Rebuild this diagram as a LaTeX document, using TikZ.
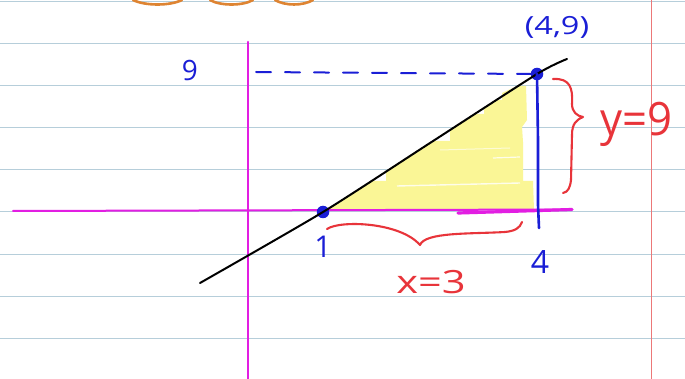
\documentclass[tikz,border=0pt]{standalone}
\usepackage{fontspec}
\setmainfont{Open Sans}
\definecolor{rulec}{RGB}{182,206,218}
\definecolor{marginc}{RGB}{236,120,120}
\definecolor{magc}{RGB}{226,30,226}
\definecolor{bluec}{RGB}{26,30,214}
\definecolor{redc}{RGB}{232,52,58}
\definecolor{hilite}{RGB}{250,246,150}
\definecolor{orangec}{RGB}{222,132,50}
\tikzset{
  rule/.style={draw=rulec, line width=1pt},
  marginline/.style={draw=marginc, line width=1pt},
  axis/.style={draw=magc, line width=2.6pt, line cap=round},
  pencil/.style={draw=black, line width=2pt, line cap=round, line join=round},
  bluepen/.style={draw=bluec, line width=2.6pt, line cap=round, line join=round},
  redpen/.style={draw=redc, line width=2.1pt, line cap=round, line join=round},
  dotpt/.style={circle, fill=bluec, inner sep=0pt, minimum size=12.5pt},
  bluetext/.style={text=bluec, inner sep=0pt},
  redtext/.style={text=redc, inner sep=0pt},
  orangepen/.style={draw=orangec, line width=2.6pt, line cap=round}
}
\begin{document}
\begin{tikzpicture}[x=1pt,y=-1pt]
\useasboundingbox (0,0) rectangle (685,379);
\fill[white] (0,0) rectangle (685,379);
% ruled paper
\foreach \k in {0,...,9} \draw[rule] (0,{1.5+42.1*\k}) -- (685,{1.5+42.1*\k});
\draw[marginline] (651,0) -- (651,379);
% orange scallops at top
\draw[orangepen] (133,0) .. controls (145,6) and (170,6) .. (182,0);
\draw[orangepen] (210,0) .. controls (220,6) and (243,6) .. (253,0);
\draw[orangepen] (275,0) .. controls (285,6) and (303,6) .. (313,0);
% yellow highlight
\fill[hilite] (328,210) -- (372,181) -- (386,181) -- (386,171) -- (432,141)
  -- (450,141) -- (450,130) -- (475,114) -- (484,114) -- (484,108)
  -- (497,100) -- (502,100) -- (502,93) -- (517,86) -- (526,86)
  -- (527,120) -- (522,127) -- (523,142) -- (523,181) -- (533,181)
  -- (534,210) -- cycle;
\draw[white, line width=1.4pt, opacity=0.8] (397,186) -- (520,183);
\draw[white, line width=1.2pt, opacity=0.8] (493,158) -- (520,157);
\draw[white, line width=1pt, opacity=0.6] (440,150) -- (510,148);
% axes
\coordinate (ytop) at (248,42);
\coordinate (ybot) at (248,379);
\coordinate (xl) at (13,211);
\coordinate (xr) at (572,209.5);
\coordinate (xm) at (458,213);
\draw[axis] (ytop) -- (ybot);
\draw[axis, line width=2pt] (xl) -- (xr);
\draw[axis, line width=3.2pt] (xm) -- (xr);
% points
\node[dotpt] (p1) at (323,212) {};
\node[dotpt] (p2) at (537,74) {};
% black line
\coordinate (lstart) at (200,283);
\coordinate (lend) at (567,59);
\draw[pencil] plot[smooth, tension=0.4] coordinates {(lstart) (p1.center) (430,143) (p2.center) (lend)};
% dashed horizontal and vertical
\coordinate (dstart) at (256,72);
\draw[bluepen, line width=2pt, dash pattern=on 15pt off 14pt] (dstart) -- (p2.west);
\coordinate (vbot) at (539,228);
\draw[bluepen] (p2.center) -- (538,140) -- (538,205) -- (vbot);
% braces
\draw[redpen] (327,229) .. controls (340,220) and (400,222) .. (420,245)
  .. controls (425,232) and (470,234) .. (505,232)
  .. controls (515,231) and (520,228) .. (522,222);
\draw[redpen] (553,79) .. controls (570,78) and (573,88) .. (572,104)
  .. controls (572,112) and (577,116) .. (583,117)
  .. controls (576,120) and (572,124) .. (572,135) -- (571,180)
  .. controls (570,188) and (568,192) .. (563,193);
% labels
\node[bluetext, font=\fontsize{25}{25}\selectfont, xscale=1.3] (lab49) at (557,27) {(4,9)};
\node[bluetext, font=\fontsize{28}{28}\selectfont] (lab9) at (190,71) {9};
\node[bluetext, font=\fontsize{30}{30}\selectfont] (lab1) at (323,247) {1};
\node[bluetext, font=\fontsize{32}{32}\selectfont] (lab4) at (540,262) {4};
\node[redtext, font=\fontsize{32}{32}\selectfont, xscale=1.3] (labx) at (431,282) {x=3};
\node[redtext, font=\fontsize{46}{46}\selectfont, xscale=0.95] (laby) at (636,124) {y=9};
\end{tikzpicture}
\end{document}
